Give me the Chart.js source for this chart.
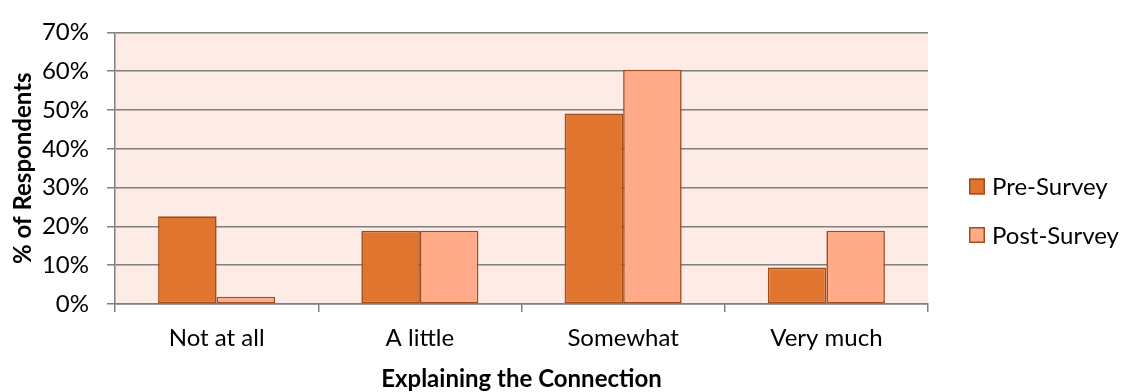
<!DOCTYPE html>
<html>
<head>
<meta charset="utf-8">
<script src="https://cdn.jsdelivr.net/npm/chart.js@4/dist/chart.umd.min.js"></script>
<style>
  html, body { margin: 0; padding: 0; background: #ffffff; }
  #wrap { width: 1127px; height: 392px; }
</style>
</head>
<body>
<div id="wrap"><canvas id="chart" width="1127" height="392"></canvas></div>
<script>
// Survey responses: share of respondents per answer
const categories = ['Not at all', 'A little', 'Somewhat', 'Very much'];
const preSurvey = [22.6, 18.9, 49.1, 9.4];
const postSurvey = [1.9, 18.9, 60.4, 18.9];
const seriesNames = ['Pre-Survey', 'Post-Survey'];
const yTickMax = 70;
const yTickStep = 10;
const xTitle = 'Explaining the Connection';
const yTitle = '% of Respondents';

const FONT = 'Lato, "DejaVu Sans", sans-serif';
const GRID = '#7F7F7F';

// Peach backdrop behind the plotting area
const plotBackground = {
  id: 'plotBackground',
  beforeDraw(chart) {
    const { ctx, chartArea: a } = chart;
    ctx.save();
    ctx.fillStyle = '#FDECE5';
    ctx.fillRect(a.left, a.top, a.right - a.left, a.bottom - a.top);
    ctx.restore();
  }
};

// Legend drawn to the right of the plot, one row per dataset
const sideLegend = {
  id: 'sideLegend',
  afterDraw(chart) {
    const { ctx } = chart;
    const x0 = 969, y0 = 186.5, rowGap = 48.5, box = 16;
    ctx.save();
    ctx.font = '24px ' + FONT;
    ctx.textBaseline = 'middle';
    ctx.textAlign = 'left';
    chart.data.datasets.forEach((ds, i) => {
      const cy = y0 + i * rowGap;
      ctx.fillStyle = ds.backgroundColor;
      ctx.fillRect(x0, cy - box / 2, box, box);
      ctx.strokeStyle = ds.borderColor;
      ctx.lineWidth = 1.5;
      ctx.strokeRect(x0 + 0.75, cy - box / 2 + 0.75, box - 1.5, box - 1.5);
      ctx.fillStyle = '#000000';
      ctx.fillText(ds.label, x0 + 23, cy + 1);
    });
    ctx.restore();
  }
};

new Chart(document.getElementById('chart'), {
  type: 'bar',
  data: {
    labels: categories,
    datasets: [
      {
        label: seriesNames[0],
        data: preSurvey,
        backgroundColor: '#E07530',
        borderColor: '#A04C1C',
        borderWidth: 1.6,
        borderSkipped: false
      },
      {
        label: seriesNames[1],
        data: postSurvey,
        backgroundColor: '#FFAB8A',
        borderColor: '#A04C1C',
        borderWidth: 1.6,
        borderSkipped: false
      }
    ]
  },
  options: {
    responsive: false,
    animation: false,
    devicePixelRatio: 1,
    categoryPercentage: 0.576,
    barPercentage: 1.0,
    layout: { padding: { left: 0, top: 23, right: 199, bottom: 0 } },
    plugins: {
      legend: { display: false },
      tooltip: { enabled: false },
      title: { display: false }
    },
    scales: {
      x: {
        afterFit(scale) { scale.height = 88; },
        grid: {
          display: true,
          offset: true,
          drawOnChartArea: false,
          drawTicks: true,
          tickLength: 8,
          color: GRID,
          lineWidth: 1.5
        },
        border: { display: true, color: GRID, width: 1.5 },
        ticks: {
          color: '#000000',
          padding: 12,
          font: { family: FONT, size: 24 }
        },
        title: {
          display: true,
          text: xTitle,
          color: '#000000',
          font: { family: FONT, size: 24, weight: 'bold', lineHeight: 1 },
          padding: { top: 0, bottom: 1 }
        }
      },
      y: {
        min: 0,
        max: yTickMax,
        afterFit(scale) { scale.width = 115; },
        grid: {
          color: GRID,
          lineWidth: 1.5,
          drawTicks: true,
          tickLength: 8
        },
        border: { display: true, color: GRID, width: 1.5 },
        ticks: {
          stepSize: yTickStep,
          color: '#000000',
          padding: 18,
          font: { family: FONT, size: 24 },
          callback: (v) => v + '%'
        },
        title: {
          display: true,
          text: yTitle,
          color: '#000000',
          font: { family: FONT, size: 24, weight: 'bold', lineHeight: 1 },
          padding: { top: 11, bottom: 0 }
        }
      }
    }
  },
  plugins: [plotBackground, sideLegend]
});
</script>
</body>
</html>
